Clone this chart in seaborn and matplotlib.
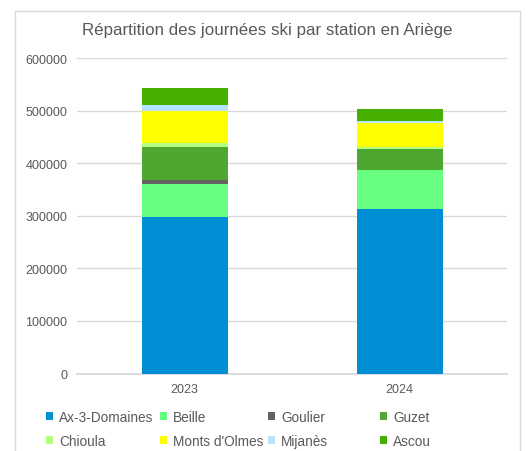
import pandas as pd
import matplotlib.pyplot as plt
import seaborn as sns
from matplotlib.patches import Patch, Rectangle

annees = ['2023', '2024']
stations = ['Ax-3-Domaines', 'Beille', 'Goulier', 'Guzet',
            'Chioula', "Monts d'Olmes", 'Mijanès', 'Ascou']
ax3 = [297000, 312000]
beille = [64000, 74600]
goulier = [6700, 1000]
guzet = [62700, 40200]
chioula = [8300, 2000]
monts = [61300, 46700]
mijanes = [10800, 4400]
ascou = [32200, 22800]
couleurs = ['#008FD5', '#66FF80', '#636363', '#4EA72E',
            '#B3FF80', '#FFFF00', '#B7E3FF', '#45B000']

df = pd.DataFrame({'annee': annees, 'Ax-3-Domaines': ax3, 'Beille': beille,
                   'Goulier': goulier, 'Guzet': guzet, 'Chioula': chioula,
                   "Monts d'Olmes": monts, 'Mijanès': mijanes, 'Ascou': ascou})
cumul = df[stations].cumsum(axis=1)
cumul['annee'] = df['annee']

sns.set_theme(style="white")
plt.rcParams['font.family'] = ['Liberation Sans', 'DejaVu Sans']
gris = '#595959'

fig = plt.figure(figsize=(5.28, 4.52), dpi=100)
fig.patches.append(Rectangle((15 / 528, -0.05), 505 / 528, 1.05 - 12 / 452,
                             transform=fig.transFigure, fill=False,
                             edgecolor='#d9d9d9', linewidth=1))
ax = fig.add_axes([77 / 528, 1 - 374.5 / 452, 430 / 528, 315.5 / 452])

# barres empilées : on dessine les cumuls du plus haut au plus bas
for st, c in zip(stations[::-1], couleurs[::-1]):
    sns.barplot(data=cumul, x='annee', y=st, color=c, width=0.4,
                saturation=1, linewidth=0, ax=ax, zorder=3)

ax.set_ylim(0, 600000)
ax.set_xlim(-0.5, 1.5)
ax.set_yticks(range(0, 600001, 100000))
ax.ticklabel_format(axis='y', style='plain')
ax.yaxis.grid(True, color='#d9d9d9', linewidth=1, zorder=0)
ax.set_axisbelow(True)
ax.set_xlabel('')
ax.set_ylabel('')
for s in ['top', 'right', 'left']:
    ax.spines[s].set_visible(False)
ax.spines['bottom'].set_color('#d9d9d9')
ax.tick_params(axis='both', length=0, pad=7, labelsize=9, labelcolor=gris)

fig.text(267 / 528, 1 - 30.5 / 452,
         'Répartition des journées ski par station en Ariège',
         ha='center', va='center', fontsize=12.2, color=gris)

# légende en 4 colonnes, placées comme dans l'original
xs = [46, 160, 268, 380]
for i, x in enumerate(xs):
    idx = [i, i + 4]
    handles = [Patch(facecolor=couleurs[j], edgecolor='none') for j in idx]
    fig.legend(handles, [stations[j] for j in idx], loc='upper left',
               bbox_to_anchor=(x / 528, 1 - 411 / 452), frameon=False,
               fontsize=9.8, labelcolor=gris, handlelength=0.5, handleheight=0.5,
               handletextpad=0.45, labelspacing=0.75, borderpad=0,
               borderaxespad=0)

plt.savefig('out.png', dpi=100)
